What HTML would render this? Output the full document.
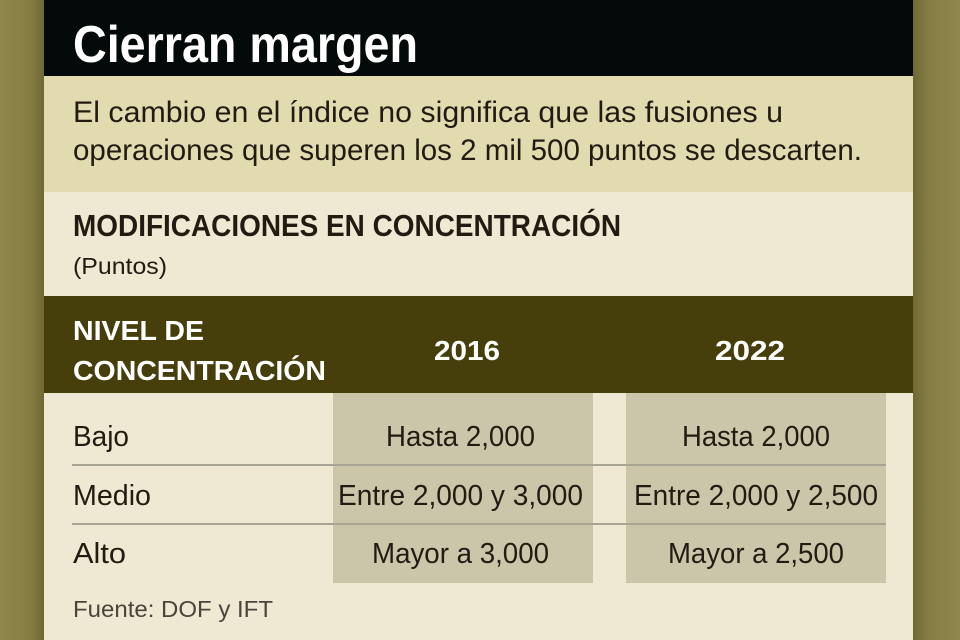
<!DOCTYPE html>
<html><head><meta charset="utf-8"><style>
html,body{margin:0;padding:0;width:960px;height:640px;overflow:hidden;background:#8a8248}
svg{display:block}
text{font-family:"Liberation Sans",sans-serif}
</style></head><body>
<svg width="960" height="640" viewBox="0 0 960 640" xmlns="http://www.w3.org/2000/svg">
<defs>
<linearGradient id="lg" x1="0" x2="1"><stop offset="0" stop-color="#8e874c"/><stop offset="0.7" stop-color="#857d42"/><stop offset="1" stop-color="#6f6834"/></linearGradient>
<linearGradient id="rg" x1="0" x2="1"><stop offset="0" stop-color="#6f6834"/><stop offset="0.3" stop-color="#857d45"/><stop offset="1" stop-color="#8e874c"/></linearGradient>
</defs>
<rect x="0" y="0" width="44" height="640" fill="url(#lg)"/>
<rect x="913" y="0" width="47" height="640" fill="url(#rg)"/>
<rect x="44" y="0" width="869" height="640" fill="#efe9d3"/>
<rect x="44" y="0" width="869" height="76" fill="#040a0a"/>
<rect x="44" y="76" width="869" height="116" fill="#e3dbb0"/>
<rect x="44" y="296" width="869" height="97" fill="#463f0b"/>
<rect x="333" y="393" width="260" height="190" fill="#cbc5a9"/>
<rect x="626" y="393" width="260" height="190" fill="#cbc5a9"/>
<line x1="72" y1="465" x2="886" y2="465" stroke="#a9a594" stroke-width="2"/>
<line x1="72" y1="524" x2="886" y2="524" stroke="#a9a594" stroke-width="2"/>
<text x="73" y="62" font-size="52" font-weight="bold" fill="#fff" textLength="345" lengthAdjust="spacingAndGlyphs">Cierran margen</text>
<g fill="#231a12" font-size="30">
<text x="73" y="122" textLength="710" lengthAdjust="spacingAndGlyphs">El cambio en el índice no significa que las fusiones u</text>
<text x="73" y="160" textLength="789" lengthAdjust="spacingAndGlyphs">operaciones que superen los 2 mil 500 puntos se descarten.</text>
</g>
<text x="73" y="236" font-size="31" font-weight="bold" fill="#231a12" textLength="548" lengthAdjust="spacingAndGlyphs">MODIFICACIONES EN CONCENTRACIÓN</text>
<text x="73" y="274" font-size="23" fill="#231a12" textLength="94" lengthAdjust="spacingAndGlyphs">(Puntos)</text>
<g fill="#fff" font-size="28" font-weight="bold">
<text x="73" y="340" textLength="131" lengthAdjust="spacingAndGlyphs">NIVEL DE</text>
<text x="73" y="380" textLength="253" lengthAdjust="spacingAndGlyphs">CONCENTRACIÓN</text>
<text x="434" y="360" textLength="66" lengthAdjust="spacingAndGlyphs">2016</text>
<text x="715" y="360" textLength="70" lengthAdjust="spacingAndGlyphs">2022</text>
</g>
<g fill="#231a12" font-size="29">
<text x="73" y="446" textLength="56" lengthAdjust="spacingAndGlyphs">Bajo</text>
<text x="73" y="505" textLength="78" lengthAdjust="spacingAndGlyphs">Medio</text>
<text x="73" y="563" textLength="53" lengthAdjust="spacingAndGlyphs">Alto</text>
<text x="386" y="446" textLength="149" lengthAdjust="spacingAndGlyphs">Hasta 2,000</text>
<text x="338" y="505" textLength="245" lengthAdjust="spacingAndGlyphs">Entre 2,000 y 3,000</text>
<text x="372" y="563" textLength="177" lengthAdjust="spacingAndGlyphs">Mayor a 3,000</text>
<text x="682" y="446" textLength="148" lengthAdjust="spacingAndGlyphs">Hasta 2,000</text>
<text x="634" y="505" textLength="244" lengthAdjust="spacingAndGlyphs">Entre 2,000 y 2,500</text>
<text x="668" y="563" textLength="176" lengthAdjust="spacingAndGlyphs">Mayor a 2,500</text>
</g>
<text x="73" y="617" font-size="23" fill="#4a443c" textLength="200" lengthAdjust="spacingAndGlyphs">Fuente: DOF y IFT</text>
</svg>
</body></html>
